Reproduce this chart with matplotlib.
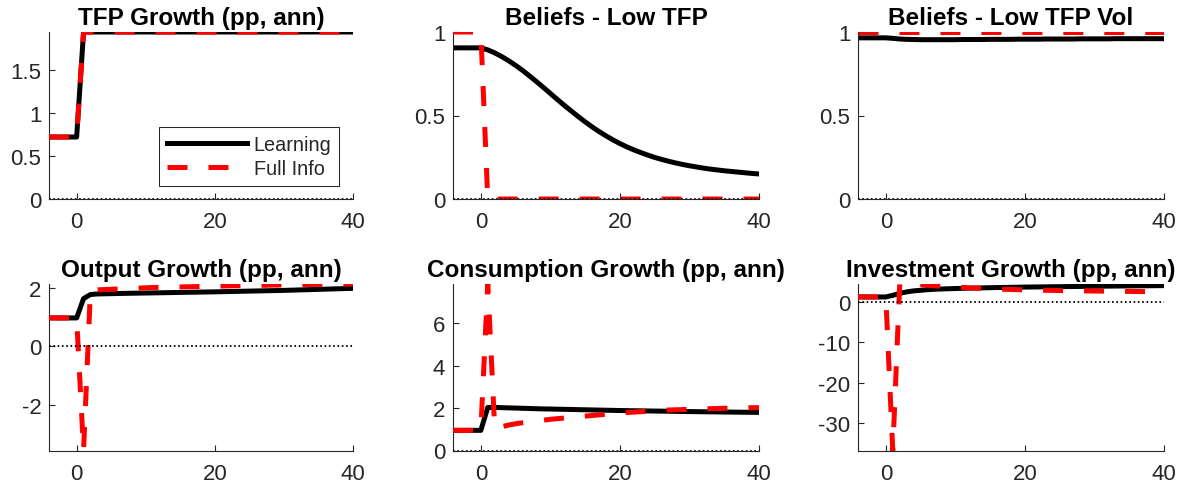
import matplotlib
matplotlib.use("Agg")
import matplotlib.pyplot as plt

plt.rcParams['font.family'] = ['Liberation Sans', 'DejaVu Sans']
plt.rcParams['lines.scale_dashes'] = False

# horizon (quarters)
periods = list(range(-4, 41))

titles = ["TFP Growth (pp, ann)", "Beliefs - Low TFP", "Beliefs - Low TFP Vol",
          "Output Growth (pp, ann)", "Consumption Growth (pp, ann)", "Investment Growth (pp, ann)"]
series_labels = ["Learning", "Full Info"]

# --- TFP growth
tfp_learning = [0.72] * 5 + [1.94] * 40
tfp_full = [0.72] * 5 + [1.94] * 40

# --- Beliefs low TFP
bel_learning = [0.905] * 4 + [0.905, .893, .875, .853, .828, .800, .770, .737, .703, .668, .632,
                              .596, .561, .527, .494, .462, .432, .404, .378, .354, .332,
                              .312, .294, .278, .263, .249, .237, .226, .216, .207, .199,
                              .192, .185, .179, .174, .169, .165, .161, .157, .153, .150]
bel_full = [1.0] * 5 + [0.0] * 40

# --- Beliefs low TFP vol
vol_learning = [0.965] * 5 + [0.962, 0.958, 0.956, 0.955] + [0.954] * 6 + [0.955] * 4 + \
               [0.956] * 4 + [0.957] * 4 + [0.958] * 5 + [0.959] * 5 + [0.960] * 8
vol_full = [1.0] * 45

# --- Output growth
out_learning = [0.96] * 5 + [1.62, 1.76, 1.78, 1.785, 1.79, 1.795, 1.80, 1.804, 1.808, 1.812,
                             1.816, 1.82, 1.824, 1.828, 1.832, 1.836, 1.84, 1.844, 1.848, 1.852,
                             1.857, 1.862, 1.867, 1.872, 1.877, 1.882, 1.887, 1.892, 1.897, 1.902,
                             1.909, 1.916, 1.923, 1.93, 1.937, 1.944, 1.951, 1.958, 1.965, 1.972]
out_full = [0.96] * 5 + [-3.57, 1.90, 1.92, 1.93, 1.94, 1.95, 1.96, 1.97, 1.98, 1.99,
                         2.0, 2.005, 2.01, 2.015, 2.02, 2.025, 2.03, 2.035, 2.04, 2.045,
                         2.05, 2.055, 2.06, 2.064, 2.068, 2.072, 2.076, 2.08, 2.084, 2.088,
                         2.092, 2.096, 2.10, 2.103, 2.106, 2.109, 2.112, 2.115, 2.118, 2.12]

# --- Consumption growth
con_learning = [0.95] * 5 + [2.03, 2.03, 2.02, 2.01, 2.0, 1.99, 1.98, 1.97, 1.96, 1.955,
                             1.948, 1.941, 1.934, 1.927, 1.92, 1.913, 1.906, 1.899, 1.892, 1.885,
                             1.88, 1.875, 1.87, 1.865, 1.86, 1.855, 1.85, 1.845, 1.84, 1.835,
                             1.831, 1.827, 1.823, 1.819, 1.815, 1.811, 1.807, 1.803, 1.80, 1.797]
con_full = [0.95] * 5 + [7.85, 1.05, 1.12, 1.2, 1.26, 1.31, 1.35, 1.39, 1.43, 1.47,
                         1.5, 1.53, 1.56, 1.59, 1.62, 1.65, 1.68, 1.71, 1.74, 1.77,
                         1.79, 1.81, 1.83, 1.85, 1.87, 1.89, 1.91, 1.92, 1.93, 1.94,
                         1.95, 1.96, 1.97, 1.98, 1.99, 2.0, 2.0, 2.01, 2.02, 2.02]

# --- Investment growth
inv_learning = [1.2] * 5 + [1.6, 2.1, 2.45, 2.7, 2.85, 3.0, 3.1, 3.17, 3.23, 3.28,
                            3.33, 3.37, 3.41, 3.45, 3.49, 3.52, 3.55, 3.58, 3.61, 3.64,
                            3.66, 3.68, 3.70, 3.72, 3.74, 3.76, 3.78, 3.80, 3.82, 3.84,
                            3.86, 3.88, 3.90, 3.91, 3.93, 3.94, 3.96, 3.97, 3.99, 4.0]
inv_full = [1.2] * 5 + [-36.7, 4.4, 4.4, 4.35, 4.25, 4.1, 3.95, 3.85, 3.75, 3.65,
                        3.55, 3.45, 3.38, 3.3, 3.22, 3.16, 3.1, 3.05, 3.0, 2.96,
                        2.92, 2.88, 2.85, 2.82, 2.79, 2.76, 2.73, 2.71, 2.69, 2.67,
                        2.65, 2.63, 2.61, 2.59, 2.57, 2.55, 2.53, 2.51, 2.49, 2.47]

panels_learning = [tfp_learning, bel_learning, vol_learning, out_learning, con_learning, inv_learning]
panels_full = [tfp_full, bel_full, vol_full, out_full, con_full, inv_full]

x_ticks = [0, 20, 40]
y_ticks = [[0, 0.5, 1, 1.5], [0, 0.5, 1], [0, 0.5, 1], [-2, 0, 2], [0, 2, 4, 6], [-30, -20, -10, 0]]
y_ticklabels = [["0", "0.5", "1", "1.5"], ["0", "0.5", "1"], ["0", "0.5", "1"],
                ["-2", "0", "2"], ["0", "2", "4", "6"], ["-30", "-20", "-10", "0"]]

W, H = 1185, 489
cols_px = [(49, 304), (453, 306), (858, 306)]
rows_px = [(33, 167), (285, 166.5)]

fig = plt.figure(figsize=(W / 100, H / 100), dpi=100)
axcol = '#262626'

for i in range(6):
    r, c = divmod(i, 3)
    lx, w = cols_px[c]
    ty, h = rows_px[r]
    ax = fig.add_axes([lx / W, (H - ty - h) / H, w / W, h / H])
    yl = panels_learning[i]
    yf = panels_full[i]
    l1, = ax.plot(periods, yl, color='black', lw=3.6, zorder=2, label=series_labels[0])
    l2, = ax.plot(periods, yf, color='red', lw=3.6, linestyle=(0, (14.4, 15.1)),
                  dash_capstyle='butt', zorder=3, label=series_labels[1])
    ax.axhline(0, color='black', lw=1.3, linestyle=(0, (1.2, 1.9)), zorder=4)
    ax.set_xlim(periods[0], periods[-1])
    lo = min(0, min(yl), min(yf))
    hi = max(0, max(yl), max(yf))
    ax.set_ylim(lo, hi)
    ax.set_xticks(x_ticks)
    ax.set_xticklabels([str(v) for v in x_ticks])
    ax.set_yticks(y_ticks[i])
    ax.set_yticklabels(y_ticklabels[i])
    for s in ['top', 'right']:
        ax.spines[s].set_visible(False)
    for s in ['left', 'bottom']:
        ax.spines[s].set_color(axcol)
        ax.spines[s].set_linewidth(0.8)
    ax.tick_params(direction='in', length=4, width=0.8, colors=axcol, labelsize=16)
    ax.tick_params(axis='x', pad=9)
    ax.tick_params(axis='y', pad=5.5)
    ax.set_title(titles[i], fontsize=17.5, fontweight='bold', pad=5.5)
    if i == 0:
        leg = ax.legend(handles=[l1, l2], loc='center right', bbox_to_anchor=(0.955, 0.2545),
                        borderaxespad=0, fontsize=14.3, handlelength=4.03, handletextpad=0.33,
                        borderpad=0.4, labelspacing=0.25, fancybox=False, framealpha=1)
        leg.get_frame().set_edgecolor(axcol)
        leg.get_frame().set_linewidth(0.75)
        for t in leg.get_texts():
            t.set_color(axcol)

fig.savefig("out.png", dpi=100)
